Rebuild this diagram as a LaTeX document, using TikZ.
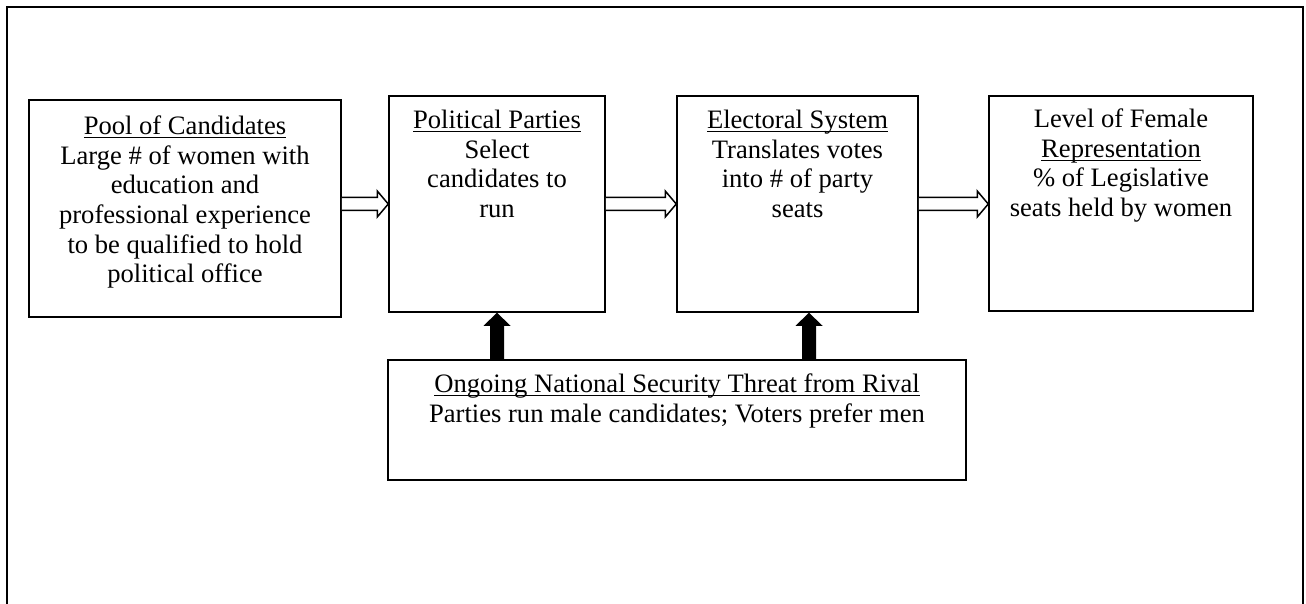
\documentclass[tikz,border=0pt]{standalone}
\usepackage{fontspec}
\setmainfont{Liberation Serif}
\usetikzlibrary{calc}

% underline at a fixed depth below the baseline
\newsavebox{\ulinebox}
\newcommand{\uln}[1]{\leavevmode\sbox{\ulinebox}{#1}\rlap{\rule[-1.8pt]{\wd\ulinebox}{0.5pt}}\usebox{\ulinebox}}
% text set from the top of a box: width, height, top gap, lines
\newcommand{\boxtext}[4]{\parbox[c][#2][t]{#1}{\centering\vspace*{#3}\strut#4}}

\begin{document}
\begin{tikzpicture}[x=0.5pt,y=-0.5pt,
  stage/.style={draw, line width=0.75pt, inner sep=0pt, font=\fontsize{13.3}{14.8}\selectfont},
  hollow/.style={draw, line width=0.75pt, fill=white, to path={
    ($(\tikztostart)+(0,3.25pt)$) -- ($(\tikztotarget)+(-5.5pt,3.25pt)$) -- ($(\tikztotarget)+(-5.5pt,6.5pt)$) -- (\tikztotarget)
    -- ($(\tikztotarget)+(-5.5pt,-6.5pt)$) -- ($(\tikztotarget)+(-5.5pt,-3.25pt)$) -- ($(\tikztostart)+(0,-3.25pt)$)}},
  solidup/.style={fill=black, to path={
    ($(\tikztostart)+(-3.5pt,0)$) -- ($(\tikztotarget)+(-3.5pt,-6.5pt)$) -- ($(\tikztotarget)+(-6.75pt,-6.5pt)$) -- (\tikztotarget)
    -- ($(\tikztotarget)+(6.75pt,-6.5pt)$) -- ($(\tikztotarget)+(3.5pt,-6.5pt)$) -- ($(\tikztostart)+(3.5pt,0)$) -- cycle}}]
\useasboundingbox (0,0) rectangle (1306,604);

% frame, runs off the bottom
\draw [line width=1pt] (7,604) -- (7,7) -- (1303,7) -- (1303,604);

\node (pool) at (185,208.5) [stage]{\boxtext{156pt}{108.5pt}{7pt}{\uln{Pool of Candidates}\\
  Large \# of women with\\ education and\\ professional experience\\ to be qualified to hold\\ political office}};

\node (parties) at (497,204) [stage]{\boxtext{108pt}{108pt}{6pt}{\uln{Political Parties}\\
  Select\\ candidates to\\ run}};

\node (electoral) at (797.5,204) [stage]{\boxtext{120.5pt}{108pt}{6pt}{\uln{Electoral System}\\
  Translates votes\\ into \# of party\\ seats}};

\node (female) at (1121,203.5) [stage]{\boxtext{132pt}{107.5pt}{5.5pt}{Level of Female\\
  \uln{Representation}\\ \% of Legislative\\ seats held by women}};

\node (threat) at (677,420) [stage]{\boxtext{289pt}{60pt}{6pt}{\uln{Ongoing National Security Threat from Rival}\\
  Parties run male candidates; Voters prefer men}};

\coordinate (tap) at ([xshift=5.75pt]electoral.south);

\draw [hollow] (pool.east |- parties.west) to (parties.west);
\draw [hollow] (parties.east) to (electoral.west);
\draw [hollow] (electoral.east) to (electoral.east -| female.west);

\path [solidup] (threat.north -| parties.south) to (parties.south);
\path [solidup] (threat.north -| tap) to (tap);

\end{tikzpicture}
\end{document}
